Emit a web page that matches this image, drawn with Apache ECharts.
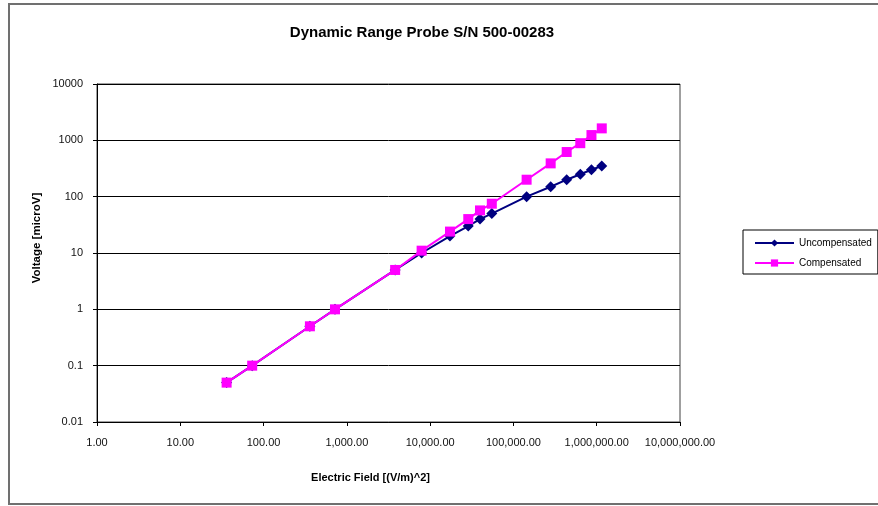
<!DOCTYPE html>
<html>
<head>
<meta charset="utf-8">
<script src="https://cdn.jsdelivr.net/npm/echarts@6/dist/echarts.min.js"></script>
<style>
  html, body { margin: 0; padding: 0; background: #fff; }
  #chart { width: 878px; height: 506px; }
</style>
</head>
<body>
<div id="chart"></div>
<script>
// Electric field squared, (V/m)^2
const fieldSquared = [36, 73, 360, 720, 3800, 7900, 17300, 28700, 39700, 55000,
                      144000, 280000, 436000, 635000, 865000, 1150000];
// Probe output, microvolts
const uncompensated = [0.05, 0.1, 0.5, 1, 5, 10, 20, 30, 40, 50,
                       100, 150, 200, 250, 300, 350];
const compensated = [0.05, 0.1, 0.5, 1, 5, 11, 24, 40, 57, 75,
                     200, 390, 620, 890, 1240, 1630];

const seriesNames = ['Uncompensated', 'Compensated'];
const titleText = 'Dynamic Range Probe S/N 500-00283';
const xAxisTitle = 'Electric Field [(V/m)^2]';
const yAxisTitle = 'Voltage [microV]';

const FONT = '"Liberation Sans", Arial, sans-serif';

function pairs(xs, ys) {
  return xs.map((x, i) => [x, ys[i]]);
}

function fmtX(v) {
  const n = Math.round(v);
  return n.toLocaleString('en-US', { minimumFractionDigits: 2, maximumFractionDigits: 2 });
}
function fmtY(v) {
  return String(Number(v.toPrecision(6)));
}

const chart = echarts.init(document.getElementById('chart'), null, { renderer: 'canvas' });

chart.setOption({
  backgroundColor: '#ffffff',
  animation: false,
  title: {
    text: titleText,
    left: 417,
    textAlign: 'center',
    top: 20,
    textStyle: { fontFamily: FONT, fontSize: 15, fontWeight: 'bold', color: '#000' }
  },
  graphic: [
    {
      type: 'rect',
      shape: { x: 9, y: 4, width: 900, height: 500 },
      style: { fill: 'none', stroke: '#707070', lineWidth: 2 },
      silent: true
    },
    {
      // vertical axis title
      type: 'text',
      x: 37,
      y: 238,
      rotation: Math.PI / 2,
      style: {
        text: yAxisTitle,
        fontFamily: FONT, fontSize: 11.5, fontWeight: 'bold', fill: '#000',
        textAlign: 'center', textVerticalAlign: 'middle'
      },
      silent: true
    }
  ],
  legend: {
    orient: 'vertical',
    left: 743,
    top: 230,
    padding: [8, 6, 6, 11],
    itemWidth: 39,
    itemHeight: 9,
    itemGap: 10,
    borderColor: '#000',
    borderWidth: 1,
    textStyle: { fontFamily: FONT, fontSize: 10, color: '#000' },
    data: seriesNames
  },
  grid: {
    left: 97, top: 84, width: 583, height: 338,
    show: true, borderColor: '#404040', borderWidth: 1
  },
  xAxis: {
    type: 'log',
    logBase: 10,
    min: 1,
    max: 10000000,
    name: xAxisTitle,
    nameLocation: 'middle',
    nameGap: 50,
    nameTextStyle: { fontFamily: FONT, fontSize: 11, fontWeight: 'bold', color: '#000',
                     padding: [0, 0, 0, -36] },
    axisLine: { show: true, lineStyle: { color: '#000', width: 1 } },
    axisTick: { show: true, inside: false, length: 4, lineStyle: { color: '#000' } },
    minorTick: { show: false },
    splitLine: { show: false },
    axisLabel: { formatter: fmtX, fontFamily: FONT, fontSize: 11, color: '#111', margin: 15 }
  },
  yAxis: {
    type: 'log',
    logBase: 10,
    min: 0.01,
    max: 10000,
    axisLine: { show: true, lineStyle: { color: '#000', width: 1 } },
    axisTick: { show: true, inside: false, length: 4, lineStyle: { color: '#000' } },
    splitLine: { show: true, lineStyle: { color: '#000', width: 1 } },
    axisLabel: { formatter: fmtY, fontFamily: FONT, fontSize: 11, color: '#111', margin: 14 }
  },
  series: [
    {
      name: seriesNames[0],
      type: 'line',
      data: pairs(fieldSquared, uncompensated),
      symbol: 'diamond',
      symbolSize: 11,
      lineStyle: { color: '#000080', width: 2 },
      itemStyle: { color: '#000080' },
      z: 2
    },
    {
      name: seriesNames[1],
      type: 'line',
      data: pairs(fieldSquared, compensated),
      symbol: 'rect',
      symbolSize: 10,
      lineStyle: { color: '#ff00ff', width: 2 },
      itemStyle: { color: '#ff00ff' },
      z: 3
    }
  ]
});
</script>
</body>
</html>
